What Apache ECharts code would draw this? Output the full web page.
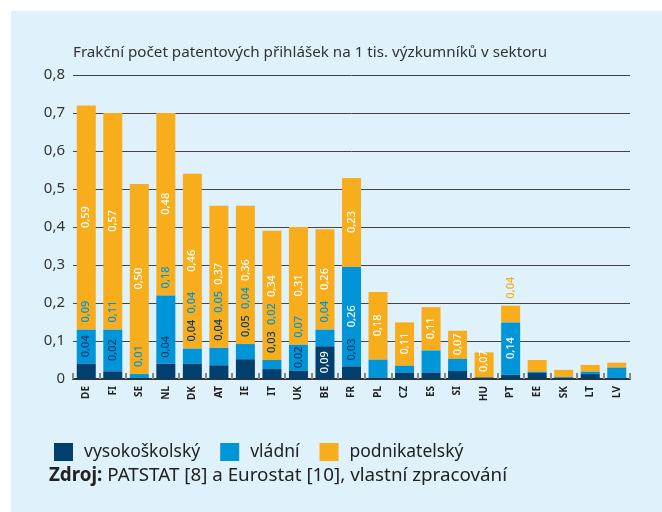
<!DOCTYPE html>
<html>
<head>
<meta charset="utf-8">
<script src="https://cdn.jsdelivr.net/npm/echarts@6/dist/echarts.min.js"></script>
<style>
html,body{margin:0;padding:0;background:#ffffff;}
#c{width:662px;height:512px;}
</style>
</head>
<body>
<div id="c"></div>
<script>
// ---- data ----
const countries = ['DE','FI','SE','NL','DK','AT','IE','IT','UK','BE','FR','PL','CZ','ES','SI','HU','PT','EE','SK','LT','LV'];
const vysokoskolsky = [0.04,0.02,0.003,0.04,0.04,0.036,0.052,0.026,0.022,0.086,0.033,0.004,0.017,0.017,0.021,0.004,0.011,0.016,0.002,0.013,0.002];
const vladni        = [0.09,0.11,0.01,0.18,0.04,0.046,0.04,0.024,0.068,0.044,0.262,0.047,0.018,0.058,0.032,0.0,0.138,0.003,0.003,0.006,0.028];
const podnikatelsky = [0.59,0.57,0.50,0.48,0.46,0.374,0.364,0.34,0.31,0.264,0.234,0.178,0.114,0.114,0.074,0.066,0.044,0.031,0.019,0.018,0.013];
// which segments carry a value label (1 = labelled)
const labelVys = [1,1,0,1,1,1,1,1,1,1,1,0,0,0,0,0,0,0,0,0,0];
const labelVla = [1,1,1,1,1,1,1,1,1,1,1,0,0,0,0,0,1,0,0,0,0];
const labelPod = [1,1,1,1,1,1,1,1,1,1,1,1,1,1,1,1,1,0,0,0,0];
const yTicks = [0,0.1,0.2,0.3,0.4,0.5,0.6,0.7,0.8];
const seriesNames = ['vysokoškolský','vládní','podnikatelský'];
const titleText = 'Frakční počet patentových přihlášek na 1 tis. výzkumníků v sektoru';
const sourceBold = 'Zdroj:';
const sourceText = ' PATSTAT [8] a Eurostat [10], vlastní zpracování';

// ---- style ----
const C_DARK = '#003f6e', C_BLUE = '#0095d9', C_ORANGE = '#f8ad1d';
const FONT = "'Noto Sans', 'DejaVu Sans', sans-serif";
const GRID = {left:73, right:32, top:75, bottom:133};
const yMax = yTicks[yTicks.length-1];
const pxPerUnit = (512 - GRID.top - GRID.bottom) / yMax;
const LBL = 21, GAP = 7;
const fmt = v => v.toFixed(2).replace('.', ',');

// compute label placement (distance from segment bottom) by rule
const labs = [[],[],[]];
countries.forEach((c,i)=>{
  const d = vysokoskolsky[i]*pxPerUnit, b = vladni[i]*pxPerUnit, o = podnikatelsky[i]*pxPerUnit;
  let cursor = 0;
  if (labelVys[i]) {
    let start, col;
    if (d >= LBL + 6) { start = (d - LBL)/2; col = '#fff'; }
    else if (b >= LBL + 2 && b < 45) { start = d + (b - LBL)/2; col = C_DARK; }
    else if (b >= 45) { start = d + 6; col = C_DARK; }
    else { start = d + b + GAP; col = C_DARK; }
    labs[0][i] = {dist:start, color:col};
    cursor = start + LBL;
  } else labs[0][i] = null;
  if (labelVla[i]) {
    let start, col;
    const centered = d + (b - LBL)/2;
    if (b >= LBL + 6 && centered >= cursor + 4) { start = centered; col = '#fff'; }
    else { start = Math.max(d + b + GAP, cursor + GAP); col = C_BLUE; }
    labs[1][i] = {dist:start - d, color:col};
    cursor = start + LBL;
  } else labs[1][i] = null;
  if (labelPod[i]) {
    let start, col;
    const base = d + b;
    if (o >= LBL + 4) { start = Math.max(base + (o - LBL)/2, cursor + GAP); col = '#fff'; }
    else { start = base + o + GAP; col = C_ORANGE; }
    labs[2][i] = {dist:start - base, color:col};
  } else labs[2][i] = null;
});

function mkData(vals, k){
  return vals.map((v,i)=>{
    const l = labs[k][i];
    if (!l) return {value:v, label:{show:false}};
    return {value:v, label:{show:true, position:'insideBottom', distance:l.dist, color:l.color}};
  });
}

const colors = [C_DARK, C_BLUE, C_ORANGE];
const series = [vysokoskolsky, vladni, podnikatelsky].map((vals,k)=>({
  name: seriesNames[k],
  type: 'bar',
  stack: 'total',
  barWidth: 19,
  z: 5 - k,
  itemStyle: {color: colors[k]},
  label: {
    rotate: 90, align: 'left', verticalAlign: 'middle',
    fontSize: 11, fontFamily: FONT, fontWeight: 500,
    formatter: p => fmt(p.value)
  },
  emphasis: {disabled: true},
  data: mkData(vals, k)
}));

const chart = echarts.init(document.getElementById('c'), null, {renderer:'canvas'});
chart.setOption({
  animation: false,
  backgroundColor: '#ffffff',
  textStyle: {fontFamily: FONT},
  graphic: [
    {type:'rect', left:11, top:11, z:-10, shape:{width:651, height:501}, style:{fill:'#dff1fa'}},
    {type:'text', left:73, top:45, style:{text:titleText, fontSize:15.2, fontFamily:FONT, fill:'#333'}},
    {type:'text', left:49, top:466, style:{
      text:'{b|' + sourceBold + '}' + sourceText,
      fontSize:18.8, fontFamily:FONT, fill:'#222',
      rich:{b:{fontWeight:'bold', fontSize:18.8, fontFamily:FONT, fill:'#222'}}
    }}
  ],
  grid: {left:GRID.left, right:GRID.right, top:GRID.top, bottom:GRID.bottom, containLabel:false},
  legend: {
    left: 49, top: 438, icon:'rect', itemWidth:19, itemHeight:18, itemGap:20,
    selectedMode:false,
    textStyle:{fontSize:17.5, color:'#222', fontFamily:FONT, padding:[0,0,0,6]},
    data: seriesNames
  },
  xAxis: {
    type:'category', data: countries,
    axisLine:{show:true, lineStyle:{color:'#333', width:2}},
    axisTick:{show:true, inside:true, length:6, interval:0, lineStyle:{color:'#888', width:2}},
    axisLabel:{rotate:90, interval:0, fontSize:10, fontWeight:'bold', color:'#222', margin:7, fontFamily:FONT}
  },
  yAxis: {
    type:'value', min:0, max:yMax, interval:0.1,
    axisLine:{show:false}, axisTick:{show:false},
    splitLine:{show:true, lineStyle:{color:'#444', width:1}},
    axisLabel:{fontSize:15, color:'#333', margin:8, fontFamily:FONT,
      formatter: v => v === 0 ? '0' : v.toFixed(1).replace('.', ',')}
  },
  series: series
});
</script>
</body>
</html>
